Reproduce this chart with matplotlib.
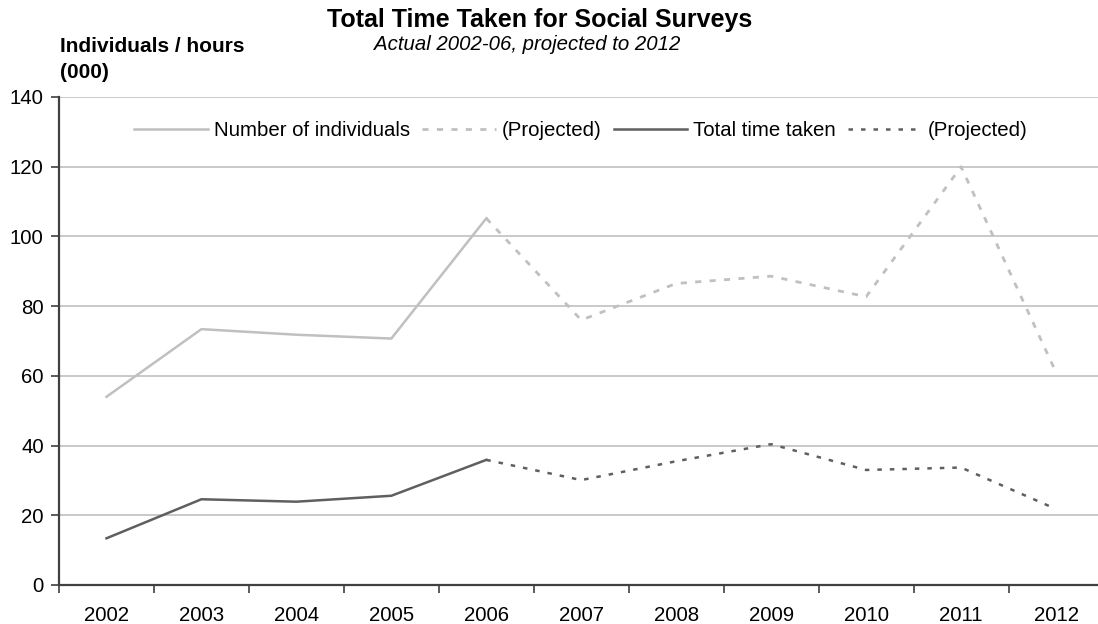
import matplotlib
matplotlib.use("Agg")
import matplotlib.pyplot as plt
from matplotlib.ticker import FixedLocator, MultipleLocator

plt.rcParams['font.family'] = ['Liberation Sans', 'DejaVu Sans']

# === Data ===
years = ['2002', '2003', '2004', '2005', '2006', '2007', '2008', '2009', '2010', '2011', '2012']
actual_years = years[:5]
projected_years = years[4:]

individuals_actual = [54.0, 73.4, 71.8, 70.7, 105.2]
individuals_projected = [105.2, 76.0, 86.5, 88.6, 82.7, 120.0, 61.0]
time_actual = [13.4, 24.6, 23.9, 25.6, 35.9]
time_projected = [35.9, 30.1, 35.5, 40.4, 33.0, 33.7, 21.8]

LIGHT = '#c0c0c0'
DARK = '#5f5f5f'
FS = 14.7

# === Figure ===
W, H = 1098, 624
fig = plt.figure(figsize=(W / 100, H / 100), dpi=100)
left, right, top, bottom = 59, 1103.5, 97, 585
ax = fig.add_axes([left / W, (H - bottom) / H, (right - left) / W, (bottom - top) / H])

idx = {y: i for i, y in enumerate(years)}
xa = [idx[y] for y in actual_years]
xp = [idx[y] for y in projected_years]

ax.plot(xa, individuals_actual, color=LIGHT, lw=1.8, label='Number of individuals')
ax.plot(xp, individuals_projected, color=LIGHT, lw=2.0, ls=(0, (2.2, 3.0)), label='(Projected)')
ax.plot(xa, time_actual, color=DARK, lw=1.8, label='Total time taken')
ax.plot(xp, time_projected, color=DARK, lw=1.8, ls=(0, (1.8, 3.2)), label='(Projected)')

ax.set_xlim(-0.5, len(years) - 0.5)
ax.set_ylim(0, 140)

# category labels in the middle, tick marks between categories
ax.set_xticks(range(len(years)))
ax.set_xticklabels(years, fontsize=FS)
ax.xaxis.set_minor_locator(FixedLocator([i - 0.5 for i in range(len(years) + 1)]))
ax.tick_params(axis='x', which='major', length=0, pad=15)
ax.tick_params(axis='x', which='minor', length=6, width=1.2, color='#404040', direction='out')

ax.yaxis.set_major_locator(MultipleLocator(20))
ax.tick_params(axis='y', length=6, width=1.2, color='#404040', labelsize=FS, pad=5)

ax.grid(axis='y', color=LIGHT, lw=1.2)
ax.set_axisbelow(True)
for s in ['top', 'right']:
    ax.spines[s].set_visible(False)
for s in ['left', 'bottom']:
    ax.spines[s].set_color('#404040')
    ax.spines[s].set_linewidth(1.6)

leg = ax.legend(ncol=4, loc='center', bbox_to_anchor=(581 / W, 1 - 131 / H),
                bbox_transform=fig.transFigure, frameon=False, fontsize=FS,
                handlelength=3.6, handletextpad=0.3, columnspacing=0.6,
                borderpad=0, borderaxespad=0)

# === Titles ===
fig.text(540 / W, 1 - 20 / H, 'Total Time Taken for Social Surveys', ha='center', va='center',
         fontsize=18, fontweight='bold')
fig.text(527 / W, 1 - 44 / H, 'Actual 2002-06, projected to 2012', ha='center', va='center',
         fontsize=FS, style='italic')
fig.text(60 / W, 1 - 46 / H, 'Individuals / hours', ha='left', va='center',
         fontsize=15, fontweight='bold')
fig.text(60 / W, 1 - 73 / H, '(000)', ha='left', va='center',
         fontsize=15, fontweight='bold')

fig.savefig('out.png', dpi=100)
